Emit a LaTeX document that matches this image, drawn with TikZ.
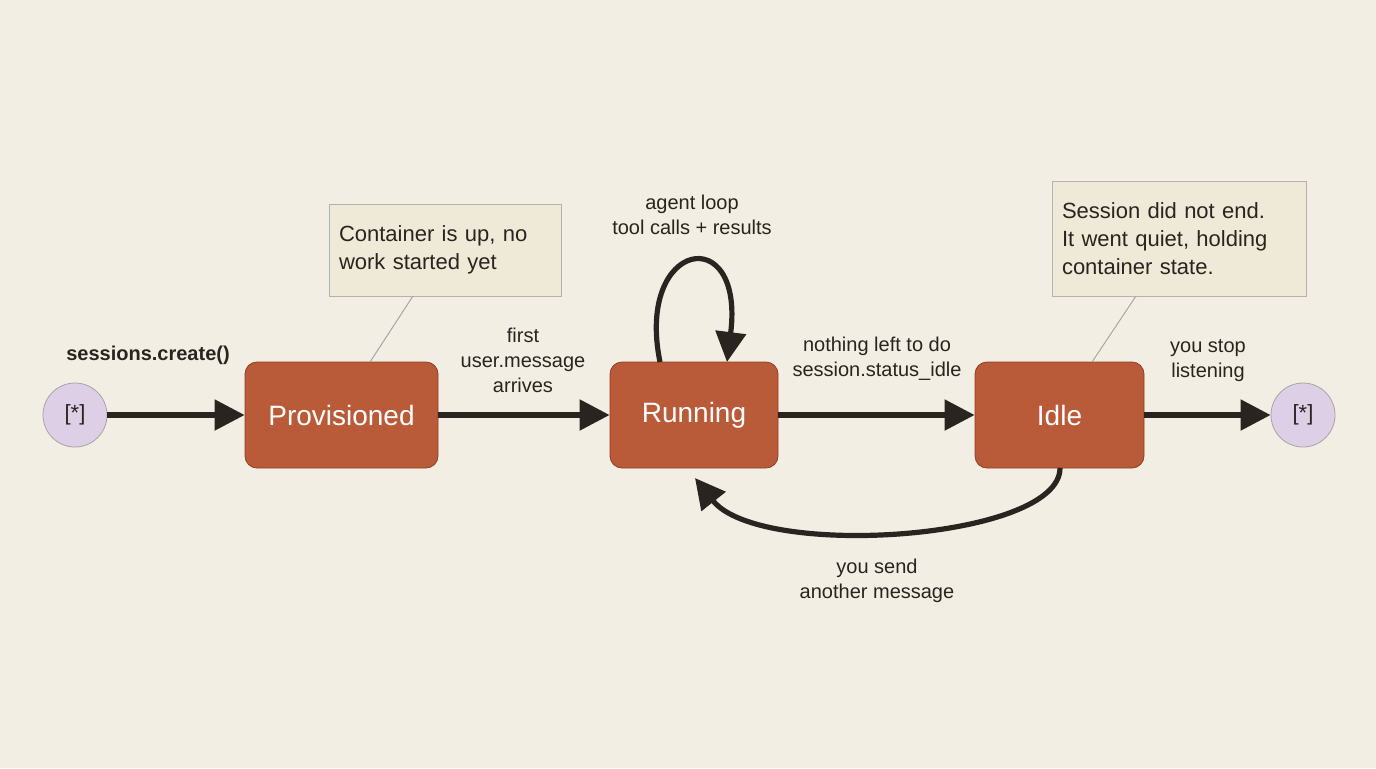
\documentclass[tikz,border=0pt]{standalone}
\usepackage{fontspec}
\setmainfont{Liberation Sans}
\usetikzlibrary{arrows.meta}
\definecolor{bg}{HTML}{F3EEE3}
\definecolor{st}{HTML}{B95A38}
\definecolor{stb}{HTML}{8E3F24}
\definecolor{lav}{HTML}{DCCFE6}
\definecolor{note}{HTML}{EFE9D8}
\definecolor{ink}{HTML}{2A2420}
\begin{document}
\begin{tikzpicture}[x=0.5pt,y=-0.5pt,
 state/.style={draw=stb,fill=st,rounded corners=6pt,text=white,font=\fontsize{14}{16}\selectfont},
 term/.style={circle,draw=gray!70,fill=lav,minimum size=32pt,inner sep=0pt,font=\fontsize{11}{13}\selectfont,text=ink},
 notebox/.style={draw=gray!60,fill=note,align=left,font=\fontsize{11}{14}\selectfont,text=ink,inner sep=0pt},
 lbl/.style={align=center,font=\fontsize{10}{12.5}\selectfont,text=ink},
 arr/.style={draw=ink,line width=2.6pt,-{Triangle[length=15pt,width=15pt]}}]
\fill[bg] (0,0) rectangle (1376,768);
\useasboundingbox (0,0) rectangle (1376,768);
\node[term] (s) at (75,415) {[*]};
\node[term] (e) at (1303,415) {[*]};
\node[state,minimum width=96.5pt,minimum height=53pt] (p) at (341.5,415) {Provisioned};
\node[state,minimum width=84pt,minimum height=53pt] (r) at (694,415) {Running};
\node[state,minimum width=84.5pt,minimum height=53pt] (i) at (1059.5,415) {Idle};
\node[notebox,minimum width=116pt,minimum height=46pt,text width=106pt] (n1) at (445,250) {Container is up, no\\work started yet};
\node[notebox,minimum width=127pt,minimum height=57.5pt,text width=117pt] (n2) at (1179,238.5) {Session did not end.\\It went quiet, holding\\container state.};
\coordinate (n1a) at (413,296); \coordinate (n1b) at (370,362);
\coordinate (n2a) at (1136,296); \coordinate (n2b) at (1092,362);
\draw[gray!70,line width=0.5pt] (n1a) -- (n1b);
\draw[gray!70,line width=0.5pt] (n2a) -- (n2b);
\draw[arr] (s) -- (p);
\draw[arr] (p) -- (r);
\draw[arr] (r) -- (i);
\draw[arr] (i) -- (e);
\coordinate (la) at (660,362); \coordinate (lb) at (727,362);
\draw[arr] (la) .. controls (635,240) and (745,220) .. (lb);
\coordinate (ra) at (1060,468); \coordinate (rb) at (695,478);
\draw[arr] (ra) .. controls (1060,540) and (760,560) .. (rb);
\node[font=\bfseries\fontsize{10}{12}\selectfont,text=ink] (c) at (148,355) {sessions.create()};
\node[lbl] (l1) at (523,360) {first\\user.message\\arrives};
\node[lbl] (l2) at (692,215) {agent loop\\tool calls + results};
\node[lbl] (l3) at (877,359) {nothing left to do\\session.status\_idle};
\node[lbl] (l4) at (1208,361) {you stop\\listening};
\node[lbl] (l5) at (877,581) {you send\\another message};
\end{tikzpicture}
\end{document}
